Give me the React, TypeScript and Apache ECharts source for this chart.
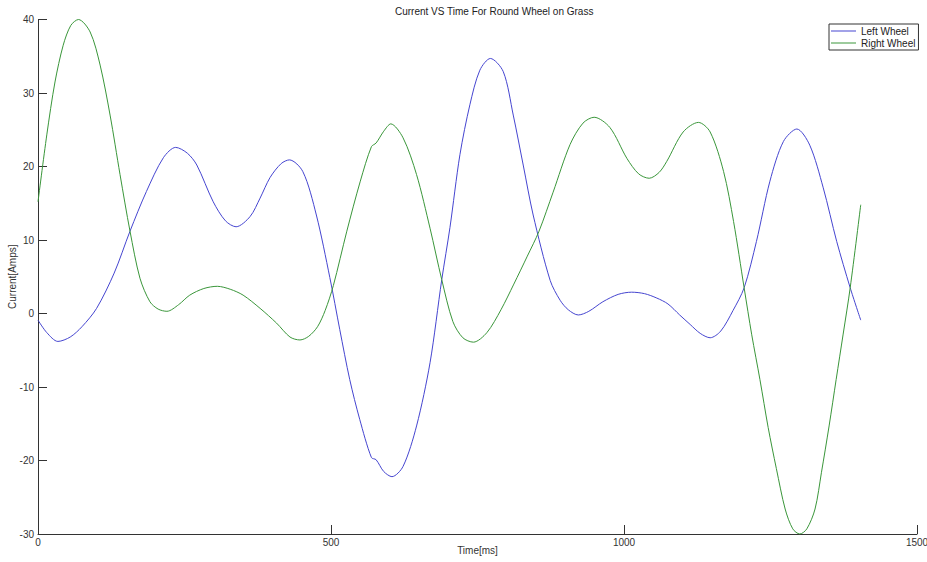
import React, { useEffect, useRef } from "react";
import * as echarts from "echarts";

const titleText = "Current VS Time For Round Wheel on Grass";
const xName = "Time[ms]";
const yName = "Current[Amps]";
const seriesNames = ["Left Wheel", "Right Wheel"];

const leftTime = [0, 15, 34, 55, 75, 100, 130, 157, 185, 214, 235, 255, 271, 299, 320, 338, 362, 379, 396, 415, 429, 452, 475, 498, 515, 532, 549, 569, 577, 590, 604, 623, 646, 669, 689, 703, 720, 737, 754, 772, 794, 811, 828, 845, 874, 891, 905, 922, 940, 964, 990, 1013, 1035, 1056, 1075, 1095, 1113, 1130, 1147, 1165, 1186, 1205, 1226, 1249, 1272, 1295, 1317, 1340, 1363, 1386, 1404];
const leftCurrent = [-0.9, -2.6, -3.8, -3.2, -1.8, 0.7, 5.5, 11.2, 16.6, 21.2, 22.6, 21.8, 20.2, 15.2, 12.6, 11.8, 13.2, 15.7, 18.5, 20.4, 20.9, 19.3, 13.4, 4.9, -2.2, -9.0, -14.4, -19.6, -19.9, -21.5, -22.2, -20.8, -15.3, -6.7, 4.6, 11.7, 21.6, 28.4, 33.1, 34.7, 32.9, 27, 20.2, 13.4, 4.5, 1.8, 0.5, -0.2, 0.3, 1.6, 2.6, 2.9, 2.7, 2.1, 1.3, -0.2, -1.5, -2.7, -3.3, -2.4, 0.4, 3.5, 9.8, 18, 23.4, 25.1, 22.9, 17.1, 9.8, 3.5, -0.9];

const rightTime = [0, 15, 29, 43, 56, 69, 89, 106, 123, 140, 157, 174, 191, 205, 220, 240, 259, 283, 306, 328, 350, 379, 407, 430, 447, 462, 477, 490, 504, 527, 550, 569, 577, 590, 602, 623, 646, 669, 689, 708, 725, 743, 766, 790, 812, 835, 855, 879, 908, 930, 949, 976, 1005, 1025, 1043, 1060, 1073, 1101, 1127, 1147, 1170, 1187, 1205, 1218, 1232, 1246, 1260, 1275, 1288, 1300, 1312, 1326, 1337, 1350, 1362, 1374, 1386, 1404];
const rightCurrent = [15.2, 24.3, 31.5, 36.5, 39.2, 40, 38.3, 33.8, 27, 18.9, 11.2, 4.8, 1.6, 0.6, 0.3, 1.2, 2.5, 3.4, 3.7, 3.3, 2.5, 0.7, -1.3, -3.2, -3.6, -3.1, -1.8, 0.4, 3.8, 11.2, 18, 22.7, 23.2, 24.8, 25.8, 23.9, 18.9, 11.6, 4.6, -1.1, -3.3, -3.9, -2.6, 0.5, 4.0, 7.8, 11.2, 16.5, 23.0, 25.9, 26.7, 25.3, 21.1, 19.0, 18.4, 19.2, 20.7, 24.7, 26.0, 24.7, 19.3, 12.5, 3.5, -2.9, -9, -15.5, -21.1, -26.6, -29.3, -30, -29.3, -26.6, -21.6, -15.3, -9, -2.8, 3.5, 14.8];

const xTicks = { min: 0, max: 1500, interval: 500 };
const yTicks = { min: -30, max: 40, interval: 10 };

const FONT = "'Liberation Sans', Arial, sans-serif";

export default function App() {
  const ref = useRef<HTMLDivElement>(null);
  useEffect(() => {
    if (!ref.current) return;
    const chart = echarts.init(ref.current, undefined, { renderer: "svg" });
    const pair = (t: number[], v: number[]) => t.map((x, i) => [x, v[i]]);
    const axisCommon = {
      splitLine: { show: false },
      axisLine: { show: true, onZero: false, lineStyle: { color: "#333", width: 1 } },
      axisTick: { show: true, inside: true, length: 9, lineStyle: { color: "#333" } },
      nameTextStyle: { color: "#333", fontSize: 10, fontFamily: FONT },
      nameLocation: "middle" as const,
      nameMoveOverlap: false,
    };
    const label = { color: "#333", fontSize: 10, fontFamily: FONT, formatter: (v: number) => String(v) };
    chart.setOption({
      animation: false,
      backgroundColor: "#fff",
      textStyle: { fontFamily: FONT },
      title: {
        text: titleText,
        left: 390,
        top: 1,
        textStyle: { fontSize: 10, fontWeight: "normal", color: "#222", fontFamily: FONT },
      },
      legend: {
        left: 829,
        top: 24,
        orient: "vertical",
        padding: [2, 3, 2, 2],
        itemGap: 2,
        itemWidth: 25,
        itemHeight: 1,
        icon: "rect",
        borderColor: "#333",
        borderWidth: 1,
        backgroundColor: "#fff",
        textStyle: { fontSize: 10, color: "#222", fontFamily: FONT },
        data: seriesNames,
      },
      grid: { left: 38, right: 10, top: 19.5, bottom: 28, containLabel: false, outerBoundsMode: "none" },
      xAxis: {
        type: "value",
        ...xTicks,
        ...axisCommon,
        name: xName,
        nameGap: 11,
        axisLabel: { ...label, margin: 3 },
      },
      yAxis: {
        type: "value",
        ...yTicks,
        ...axisCommon,
        name: yName,
        nameGap: 21,
        nameRotate: 90,
        axisLabel: { ...label, margin: 4 },
      },
      series: [
        {
          name: seriesNames[0],
          type: "line",
          data: pair(leftTime, leftCurrent),
          showSymbol: false,
          smooth: 0.3,
          lineStyle: { color: "#4545d0", width: 1 },
          itemStyle: { color: "#4545d0" },
        },
        {
          name: seriesNames[1],
          type: "line",
          data: pair(rightTime, rightCurrent),
          showSymbol: false,
          smooth: 0.3,
          lineStyle: { color: "#3a963a", width: 1 },
          itemStyle: { color: "#3a963a" },
        },
      ],
    });
    return () => chart.dispose();
  }, []);
  return (
    <div
      ref={ref}
      style={{ position: "fixed", left: 0, top: 0, width: 927, height: 562, background: "#fff" }}
    />
  );
}
